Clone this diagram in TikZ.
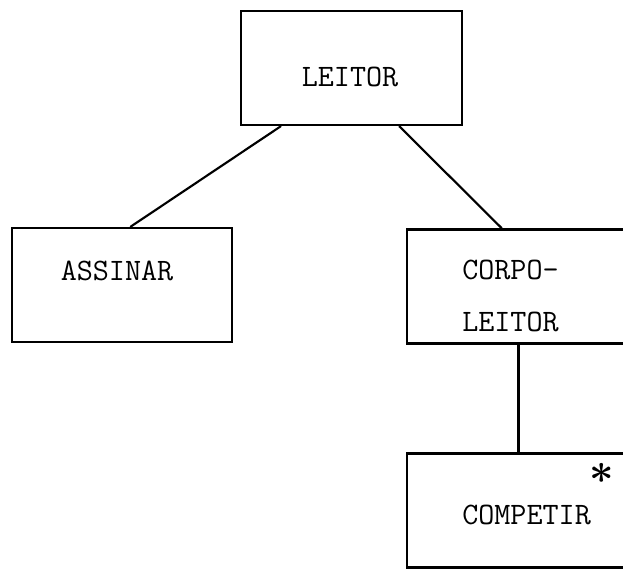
\documentclass[tikz,border=0pt]{standalone}
\usepackage{amsmath, amssymb}
\usepackage{tikz}
\usetikzlibrary{calc}

\begin{document}
\begin{tikzpicture}
		[x=0.75pt,y=-0.75pt,line cap=round,
		%Styles
		box/.style={draw,line width=2pt,inner sep=0pt,minimum width=#1*0.75pt,minimum height=114*0.75pt},
		link/.style={line width=1.6pt},
		word/.style={inner sep=0pt,align=left,font=\fontsize{23.4}{39}\selectfont\ttfamily}
		]
		
		%Frame
		\useasboundingbox (0,0) rectangle (623,571);
		\clip (0,0) rectangle (623,571);
		
		%The boxes
		\node[box=221] (leitor) at (351.5,68) {};
		\node[box=220] (assinar) at (122,285) {};
		\node[box=223] (corpo) at (518.5,286.5) {};
		\node[box=223] (competir) at (518.5,510.5) {};
		
		%Texts
		\node[word] (leitor-t) at (350,77) {LEITOR};
		\node[word] (assinar-t) at (117,271) {ASSINAR};
		\node[word,anchor=west] (corpo-t) at (462,296) {CORPO-\\LEITOR};
		\node[word,anchor=west] (competir-t) at (462,515) {COMPETIR};
		\node[inner sep=0pt] (star) at (602,473) {\scalebox{3.2}{$\boldsymbol{\ast}$}};
		
		%Links
		\draw[link] ($(leitor.south west)+(41,0)$) -- ($(assinar.north west)+(120,0)$);
		\draw[link] ($(leitor.south east)+(-64,0)$) -- ($(corpo.north west)+(96,0)$);
		\draw[link] (corpo.south) -- (competir.north);
	\end{tikzpicture}
\end{document}
